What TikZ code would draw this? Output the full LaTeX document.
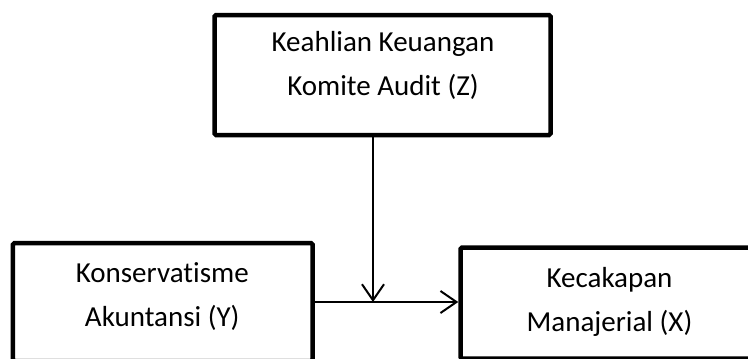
\documentclass[tikz,border=0pt]{standalone}
\usepackage{fontspec}
\setmainfont{Carlito}[RawFeature={-liga}]
\usepackage{tikz}
\usetikzlibrary{arrows.meta, positioning, calc}
\tikzset{
  block/.style={
    draw, line width=4.5bp, rounded corners=1.5bp,
    inner sep=0pt
  },
  btext/.style={
    align=center, inner sep=0pt,
    font=\fontsize{29bp}{44bp}\selectfont
  },
  farr/.style={
    -{Straight Barb[length=16bp,width=22bp]},
    line width=2bp
  }
}

\begin{document}
\begin{tikzpicture}[x=1bp, y=-1bp]
  \useasboundingbox (0,0) rectangle (748,358);
  \clip (0,0) rectangle (748,358);
  % boxes (the lower ones run past the picture's edge)
  \node[block, minimum width=336bp, minimum height=120bp] (kom) at (382.5,75) {};
  \node[block, minimum width=299.5bp, minimum height=118bp] (kon) at (162.75,302) {};
  \node[block, minimum width=300bp, minimum height=111bp] (kec) at (610.5,303) {};
  \node[btext, anchor=base] (komtxt) at ($(kom.north)+(0.5,83)$)
    {Keahlian Keuangan\\Komite Audit (Z)};
  \node[btext, anchor=base] (kontxt) at ($(kon.north)+(-0.5,86)$)
    {Konservatisme\\Akuntansi (Y)};
  \node[btext, anchor=base] (kectxt) at ($(kec.north)+(-1,86)$)
    {Kecakapan\\Manajerial (X)};
  \coordinate (join) at (373,302);
  \draw[farr] (kom.south -| join) -- (join);
  \draw[farr] (kon.east) -- (kon.east -| kec.west);
\end{tikzpicture}
\end{document}
